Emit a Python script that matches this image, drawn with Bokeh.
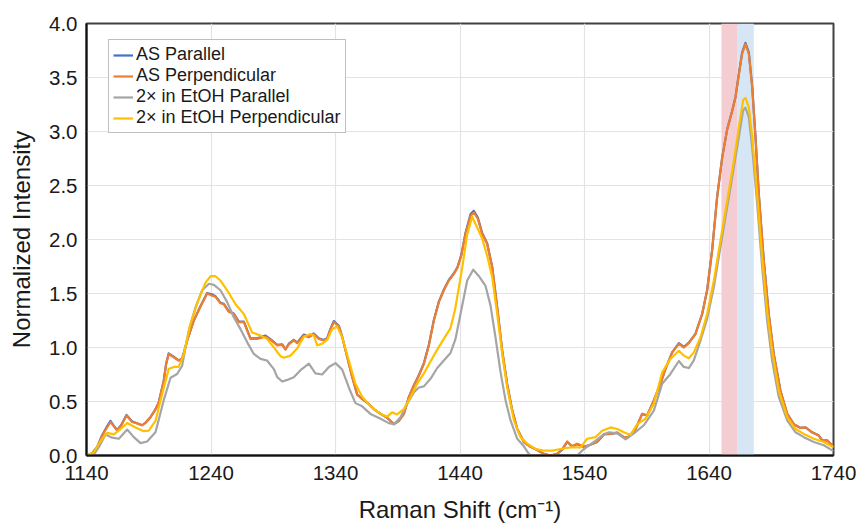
from bokeh.plotting import figure
from bokeh.models import Legend, LegendItem, FixedTicker, PrintfTickFormatter, Range1d
from bokeh.embed import file_html
from bokeh.resources import INLINE

# ---------------- data ----------------
as_perp_x = [1140, 1144.5, 1148.6, 1152.6, 1156, 1159.3, 1162, 1164.6, 1168, 1172.1, 1176.7, 1180, 1184.7, 1188,
             1191.4, 1195, 1198, 1202, 1204, 1206, 1210, 1214, 1216.8, 1220.9, 1226.2, 1231.6, 1236.9, 1241, 1243.6,
             1247.6, 1250.3, 1254.3, 1258.3, 1262.4, 1266.4, 1271.7, 1277, 1283.8, 1288, 1293.2, 1297.2, 1299.8,
             1302.5, 1306.5, 1309.2, 1314.6, 1318.6, 1322.6, 1326.6, 1330.6, 1333.3, 1336, 1338.7, 1342.7, 1345.4,
             1349.4, 1353.4, 1357.4, 1361.4, 1365.4, 1370.8, 1376.2, 1381.5, 1386.9, 1390.9, 1394.9, 1398.9, 1403,
             1407, 1411, 1415, 1419, 1423, 1427, 1431, 1435, 1438, 1441, 1444.4, 1448.5, 1451.1, 1454.4, 1457.8,
             1461.8, 1465.9, 1469.9, 1473.9, 1477.9, 1481.9, 1486, 1491.3, 1496.7, 1502, 1507.4, 1512.7, 1518.1,
             1522.1, 1526.1, 1530.1, 1534.1, 1539.5, 1544.9, 1550.2, 1555.6, 1560.9, 1566.3, 1571.6, 1575, 1581,
             1586.3, 1590.3, 1595.7, 1601, 1605, 1610.4, 1615.8, 1619.8, 1623.8, 1629.1, 1634.5, 1638.5, 1642.5,
             1646.5, 1650.6, 1654.6, 1658.6, 1661.3, 1664, 1666.6, 1669.3, 1672, 1674.7, 1677.3, 1680, 1684, 1688,
             1692, 1697.4, 1702.8, 1708.1, 1713.5, 1717.5, 1722.8, 1728.2, 1730.9, 1734.9, 1740]
as_perp_y = [0.0, 0.02, 0.08, 0.185, 0.25, 0.31, 0.27, 0.23, 0.28, 0.37, 0.31, 0.30, 0.28, 0.31,
             0.355, 0.42, 0.49, 0.69, 0.85, 0.94, 0.91, 0.88, 0.895, 1.065, 1.25, 1.38, 1.50, 1.48, 1.47,
             1.41, 1.40, 1.33, 1.31, 1.235, 1.235, 1.08, 1.08, 1.10, 1.07, 1.02, 1.025, 0.98,
             1.03, 1.065, 1.04, 1.11, 1.095, 1.125, 1.08, 1.065, 1.08, 1.17, 1.235, 1.195, 1.095,
             0.91, 0.725, 0.565, 0.525, 0.49, 0.43, 0.385, 0.35, 0.29, 0.32, 0.385, 0.54, 0.65,
             0.74, 0.85, 1.02, 1.25, 1.42, 1.53, 1.62, 1.68, 1.74, 1.85, 2.05, 2.22, 2.25, 2.19, 2.05,
             1.96, 1.74, 1.37, 0.97, 0.66, 0.42, 0.245, 0.125, 0.08, 0.05, 0.015, 0.0, 0.015,
             0.06, 0.13, 0.085, 0.11, 0.08, 0.10, 0.13, 0.20, 0.20, 0.215, 0.17, 0.17, 0.245,
             0.385, 0.37, 0.51, 0.665, 0.80, 0.955, 1.035, 1.00, 1.04, 1.125, 1.31, 1.53, 1.90,
             2.39, 2.76, 3.02, 3.19, 3.32, 3.53, 3.72, 3.81, 3.72, 3.41, 2.95, 2.42, 1.805, 1.31,
             0.94, 0.60, 0.385, 0.29, 0.255, 0.26, 0.215, 0.185, 0.14, 0.14, 0.08]

as_par_x = as_perp_x
as_par_y = [0.0, 0.02, 0.08, 0.19, 0.26, 0.32, 0.275, 0.235, 0.285, 0.375, 0.315, 0.30, 0.28, 0.31,
            0.355, 0.42, 0.49, 0.69, 0.85, 0.945, 0.915, 0.88, 0.895, 1.065, 1.25, 1.385, 1.505, 1.49, 1.475,
            1.415, 1.405, 1.335, 1.315, 1.24, 1.24, 1.085, 1.085, 1.11, 1.075, 1.025, 1.03, 0.985,
            1.035, 1.07, 1.045, 1.12, 1.10, 1.13, 1.085, 1.07, 1.085, 1.175, 1.245, 1.20, 1.10,
            0.915, 0.73, 0.565, 0.525, 0.49, 0.43, 0.385, 0.35, 0.29, 0.32, 0.385, 0.54, 0.65,
            0.745, 0.855, 1.025, 1.255, 1.425, 1.535, 1.625, 1.685, 1.745, 1.855, 2.06, 2.235, 2.265, 2.20, 2.06,
            1.965, 1.745, 1.37, 0.97, 0.66, 0.42, 0.245, 0.125, 0.08, 0.05, 0.015, 0.0, 0.015,
            0.055, 0.125, 0.085, 0.105, 0.08, 0.10, 0.125, 0.195, 0.20, 0.21, 0.17, 0.17, 0.245,
            0.385, 0.37, 0.51, 0.665, 0.80, 0.955, 1.04, 1.005, 1.045, 1.125, 1.31, 1.53, 1.90,
            2.39, 2.76, 3.02, 3.19, 3.32, 3.535, 3.73, 3.82, 3.73, 3.42, 2.96, 2.42, 1.805, 1.31,
            0.94, 0.60, 0.385, 0.29, 0.255, 0.26, 0.215, 0.185, 0.14, 0.14, 0.08]

etoh_perp_x = [1140, 1146, 1151, 1156.6, 1162, 1167.3, 1172.7, 1179.4, 1186, 1190, 1195.4, 1200.8, 1206, 1210,
               1214, 1218, 1223.5, 1230.2, 1235.6, 1239.6, 1243.6, 1247.6, 1253, 1259.7, 1266.4, 1273, 1279.8,
               1285, 1290.5, 1295.8, 1298.5, 1303.9, 1309.2, 1314.6, 1319.9, 1322.6, 1325.3, 1329.3, 1333.3,
               1337.3, 1341.3, 1345.4, 1350.7, 1356, 1361.4, 1368.1, 1376.2, 1381.5, 1385.5, 1389.5, 1394.9,
               1400.2, 1405.6, 1411, 1416.3, 1421.7, 1427, 1432.4, 1436, 1439, 1441.8, 1445.8, 1449.8, 1453.8,
               1457.8, 1461.8, 1465.9, 1469.9, 1473.9, 1477.9, 1483.3, 1488.6, 1494, 1500.7, 1507.4, 1514.1,
               1520.7, 1528.8, 1536.8, 1542.2, 1548.9, 1554.2, 1560.9, 1566.3, 1571.6, 1577, 1582.3, 1589,
               1595.7, 1602.4, 1609, 1615.8, 1619.8, 1623.8, 1627.8, 1633.2, 1638.5, 1643.9, 1649.2, 1654.6,
               1660, 1664, 1667.4, 1669.3, 1672, 1674.7, 1678.7, 1682.7, 1686.7, 1690.7, 1696.1, 1702.8,
               1709.5, 1716.2, 1724.2, 1732.2, 1740]
etoh_perp_y = [0.0, 0.03, 0.13, 0.21, 0.195, 0.245, 0.30, 0.26, 0.225, 0.23, 0.32, 0.57, 0.80, 0.82,
               0.82, 0.93, 1.22, 1.45, 1.60, 1.66, 1.66, 1.62, 1.53, 1.40, 1.31, 1.14, 1.11,
               1.08, 1.00, 0.92, 0.905, 0.925, 0.99, 1.10, 1.125, 1.11, 1.02, 1.035, 1.07,
               1.17, 1.195, 1.095, 0.88, 0.665, 0.545, 0.455, 0.385, 0.36, 0.40, 0.38, 0.43,
               0.54, 0.665, 0.76, 0.87, 0.98, 1.08, 1.18, 1.35, 1.55, 1.74, 2.05, 2.21, 2.11,
               2.01, 1.85, 1.65, 1.31, 0.94, 0.63, 0.325, 0.17, 0.11, 0.06, 0.045, 0.045,
               0.06, 0.075, 0.075, 0.155, 0.17, 0.23, 0.26, 0.245, 0.215, 0.19, 0.29, 0.34,
               0.48, 0.77, 0.895, 0.97, 0.925, 0.90, 0.955, 1.095, 1.31, 1.62, 1.99, 2.36,
               2.73, 3.04, 3.29, 3.31, 3.225, 2.95, 2.42, 1.84, 1.34, 0.97, 0.60, 0.355,
               0.245, 0.20, 0.155, 0.125, 0.075]

etoh_par_x = [1140, 1146, 1150, 1155.3, 1160.6, 1166, 1172.7, 1178, 1183.4, 1188.7, 1195.4, 1202, 1207.5, 1212.8,
              1216.8, 1222.2, 1227.5, 1232.9, 1238.3, 1242.3, 1247.6, 1253, 1258.3, 1263.7, 1269, 1274.4, 1279.8,
              1285, 1290.5, 1293.2, 1297.2, 1301.2, 1306.5, 1311.9, 1318.6, 1323.9, 1329.3, 1334.7, 1340, 1345.4,
              1350.7, 1356, 1361.4, 1368.1, 1376.2, 1382.8, 1386.9, 1392.2, 1397.6, 1403, 1407, 1411, 1416.3,
              1421.7, 1427, 1432.4, 1436.4, 1440.4, 1445.8, 1450.6, 1455.2, 1460.5, 1464.5, 1468.5, 1472.6,
              1476.6, 1480.6, 1486, 1491.3, 1495.3, 1500.7, 1510, 1520, 1528, 1534.1, 1539.5, 1547.5, 1554.2,
              1559.6, 1566.3, 1573, 1579.7, 1587.6, 1595.7, 1602.4, 1609, 1615.8, 1619.8, 1623.8, 1627.8,
              1633.2, 1638.5, 1643.9, 1649.2, 1654.6, 1660, 1664, 1667.4, 1669.3, 1672, 1674.7, 1678.7, 1682.7,
              1686.7, 1690.7, 1696.1, 1702.8, 1709.5, 1716.2, 1724.2, 1732.2, 1740]
etoh_par_y = [0.0, 0.01, 0.08, 0.195, 0.165, 0.155, 0.24, 0.17, 0.115, 0.13, 0.215, 0.51, 0.72, 0.755,
              0.83, 1.16, 1.37, 1.53, 1.59, 1.58, 1.53, 1.42, 1.28, 1.17, 1.05, 0.94, 0.895,
              0.88, 0.80, 0.725, 0.685, 0.70, 0.725, 0.79, 0.85, 0.76, 0.75, 0.82, 0.855, 0.795,
              0.63, 0.485, 0.455, 0.385, 0.34, 0.30, 0.29, 0.355, 0.48, 0.585, 0.63, 0.64, 0.71,
              0.81, 0.88, 0.95, 1.08, 1.31, 1.62, 1.72, 1.66, 1.57, 1.39, 1.095, 0.77,
              0.51, 0.325, 0.155, 0.085, 0.015, -0.03, -0.04, -0.04, -0.02, 0.0, 0.06, 0.125, 0.185,
              0.215, 0.205, 0.15, 0.205, 0.28, 0.415, 0.665, 0.755, 0.875, 0.82, 0.81, 0.88,
              1.065, 1.265, 1.56, 1.93, 2.30, 2.67, 2.95, 3.195, 3.22, 3.13, 2.85, 2.33, 1.745,
              1.25, 0.88, 0.54, 0.325, 0.215, 0.17, 0.125, 0.095, 0.04]

band_left = [1650, 1663]
band_right = [1663, 1676]
band_colors = ["#F4CDD2", "#D7E6F4"]

series_names = ["AS Parallel", "AS Perpendicular", "2\u00d7 in EtOH Parallel", "2\u00d7 in EtOH Perpendicular"]
series_colors = ["#4472C4", "#ED7D31", "#A5A5A5", "#FFC000"]

x_ticks = [1140, 1240, 1340, 1440, 1540, 1640, 1740]
y_ticks = [0.0, 0.5, 1.0, 1.5, 2.0, 2.5, 3.0, 3.5, 4.0]

FONT = "Liberation Sans"

# ---------------- figure ----------------
p = figure(width=860, height=525, output_backend="svg", toolbar_location=None,
           x_range=Range1d(1140, 1740), y_range=Range1d(0, 4),
           min_border_left=86, min_border_right=27, min_border_top=23, min_border_bottom=70)
p.background_fill_color = "white"
p.border_fill_color = "white"
p.outline_line_color = "#404040"
p.outline_line_width = 2

p.quad(left=band_left, right=band_right, bottom=0, top=4, fill_color=band_colors, line_color=None)

data = [(as_par_x, as_par_y), (as_perp_x, as_perp_y), (etoh_par_x, etoh_par_y), (etoh_perp_x, etoh_perp_y)]
renderers = []
for (xs, ys), c in zip(data, series_colors):
    r = p.line(xs, ys, line_color=c, line_width=2.2, line_join="round")
    renderers.append(r)

items = [LegendItem(label=n, renderers=[r]) for n, r in zip(series_names, renderers)]
legend = Legend(items=items, location=(22, 322))
legend.label_text_font = FONT
legend.label_text_font_size = "18px"
legend.label_text_line_height = 1.0
legend.label_text_color = "#1a1a1a"
legend.label_height = 18
legend.glyph_height = 18
legend.glyph_width = 20
legend.label_standoff = 3
legend.spacing = 0
legend.padding = 4
legend.margin = 0
legend.border_line_color = "#7f7f7f"
legend.border_line_width = 1
legend.background_fill_color = "white"
legend.background_fill_alpha = 1.0
p.add_layout(legend, "center")

for ax in (p.xaxis, p.yaxis):
    ax.major_tick_line_color = None
    ax.minor_tick_line_color = None
    ax.major_tick_out = 0
    ax.major_tick_in = 0
    ax.axis_line_color = "#111111"
    ax.axis_line_width = 2
    ax.major_label_text_font = FONT
    ax.major_label_text_font_size = "20.5px"
    ax.major_label_text_color = "#1a1a1a"
    ax.axis_label_text_font = FONT
    ax.axis_label_text_font_size = "24px"
    ax.axis_label_text_font_style = "normal"
    ax.axis_label_text_color = "#1a1a1a"

p.xaxis.ticker = FixedTicker(ticks=x_ticks)
p.yaxis.ticker = FixedTicker(ticks=y_ticks)
p.yaxis.formatter = PrintfTickFormatter(format="%.1f")
p.xaxis.major_label_standoff = 10
p.yaxis.major_label_standoff = 9
p.xaxis.axis_label = "Raman Shift (cm\u207b\u00b9)"
p.yaxis.axis_label = "Normalized Intensity"
p.xaxis.axis_label_standoff = 13
p.yaxis.axis_label_standoff = 11

p.xgrid.ticker = FixedTicker(ticks=x_ticks)
p.ygrid.ticker = FixedTicker(ticks=y_ticks)
p.xgrid.grid_line_color = "#E3E3E3"
p.ygrid.grid_line_color = "#E3E3E3"
p.xgrid.grid_line_width = 1.2
p.ygrid.grid_line_width = 1.2

open("out.html", "w").write(file_html(p, INLINE))
